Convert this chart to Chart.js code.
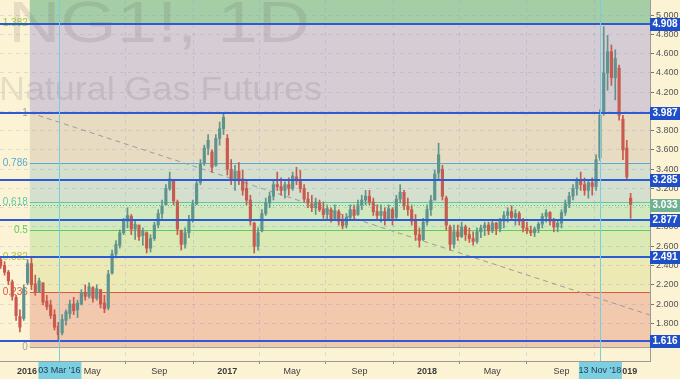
<!DOCTYPE html>
<html>
<head>
<meta charset="utf-8">
<script src="https://cdn.jsdelivr.net/npm/chart.js@4.4.1/dist/chart.umd.min.js"></script>
<style>
  html, body { margin: 0; padding: 0; background: #fcf3d4; }
</style>
</head>
<body>
<canvas id="ng" width="680" height="379"></canvas>
<script>
// NG1! weekly candles, first week ~ 2015-11-17
// x values are days counted from 2016-01-01
const firstWeekDay = -45;
const opens = [
  2.46, 2.40, 2.33, 2.23, 2.07, 1.87, 1.85, 2.22, 2.42, 2.21, 2.13, 2.22, 2.03, 1.99, 1.89, 1.77,
  1.70, 1.83, 1.90, 2.00, 1.94, 2.00, 2.12, 2.08, 2.17, 2.06, 2.15, 2.01, 1.96, 2.32, 2.52, 2.61,
  2.74, 2.86, 2.91, 2.78, 2.82, 2.71, 2.74, 2.58, 2.68, 2.82, 2.94, 3.03, 3.20, 3.28, 3.06, 2.76,
  2.62, 2.74, 2.88, 3.04, 3.26, 3.46, 3.62, 3.58, 3.44, 3.72, 3.82, 3.72, 3.40, 3.30, 3.38, 3.30,
  3.20, 3.08, 2.84, 2.60, 2.76, 2.94, 3.05, 3.12, 3.24, 3.22, 3.18, 3.24, 3.20, 3.32, 3.28, 3.20,
  3.09, 3.04, 3.00, 3.05, 2.98, 2.93, 2.98, 2.89, 2.96, 2.86, 2.82, 2.90, 2.98, 2.93, 3.03, 3.08,
  3.12, 3.06, 2.96, 2.92, 2.96, 2.88, 2.98, 2.90, 3.09, 3.16, 3.02, 2.98, 2.87, 2.72, 2.67, 2.85,
  2.98, 3.08, 3.36, 3.40, 3.10, 2.80, 2.62, 2.75, 2.70, 2.80, 2.72, 2.68, 2.65, 2.75, 2.79, 2.82,
  2.76, 2.84, 2.78, 2.86, 2.92, 2.96, 2.90, 2.94, 2.86, 2.79, 2.76, 2.74, 2.78, 2.83, 2.91, 2.95,
  2.86, 2.80, 2.84, 2.95, 3.04, 3.12, 3.20, 3.28, 3.24, 3.18, 3.26, 3.22, 3.52, 3.98, 4.40, 4.62,
  4.35, 4.45, 3.92, 3.62, 3.10
];
const highs = [
  2.48, 2.44, 2.35, 2.25, 2.09, 1.94, 2.20, 2.46, 2.49, 2.30, 2.27, 2.22, 2.09, 2.04, 1.94, 1.81,
  1.89, 1.94, 2.04, 2.07, 2.04, 2.15, 2.20, 2.22, 2.18, 2.20, 2.15, 2.09, 2.35, 2.56, 2.66, 2.77,
  2.89, 3.00, 2.93, 2.87, 2.82, 2.79, 2.75, 2.72, 2.85, 2.98, 3.08, 3.24, 3.37, 3.29, 3.08, 2.77,
  2.79, 2.92, 3.08, 3.29, 3.50, 3.65, 3.76, 3.60, 3.76, 3.89, 3.99, 3.76, 3.50, 3.44, 3.47, 3.39,
  3.29, 3.13, 2.85, 2.79, 2.98, 3.10, 3.16, 3.29, 3.37, 3.31, 3.27, 3.31, 3.37, 3.42, 3.39, 3.24,
  3.16, 3.13, 3.10, 3.08, 3.06, 3.03, 3.00, 3.03, 2.98, 2.93, 2.94, 3.03, 3.03, 3.08, 3.13, 3.18,
  3.18, 3.10, 3.03, 3.03, 3.00, 3.03, 3.00, 3.13, 3.24, 3.18, 3.10, 3.03, 2.93, 2.79, 2.89, 3.03,
  3.13, 3.39, 3.67, 3.44, 3.12, 2.82, 2.82, 2.82, 2.85, 2.82, 2.79, 2.75, 2.79, 2.82, 2.85, 2.85,
  2.87, 2.85, 2.89, 2.96, 3.00, 3.02, 2.98, 2.96, 2.89, 2.85, 2.81, 2.80, 2.85, 2.94, 2.98, 2.96,
  2.89, 2.87, 2.98, 3.08, 3.16, 3.24, 3.31, 3.37, 3.31, 3.29, 3.31, 3.55, 4.02, 4.88, 4.79, 4.69,
  4.64, 4.48, 3.96, 3.70, 3.15
];
const lows = [
  2.37, 2.30, 2.20, 2.04, 1.83, 1.71, 1.83, 2.20, 2.15, 2.09, 2.12, 1.99, 1.94, 1.85, 1.73, 1.61,
  1.68, 1.78, 1.85, 1.89, 1.86, 1.99, 2.04, 2.06, 2.02, 2.04, 1.96, 1.91, 1.94, 2.31, 2.48, 2.58,
  2.72, 2.79, 2.72, 2.67, 2.66, 2.61, 2.53, 2.54, 2.66, 2.79, 2.89, 3.03, 3.18, 3.03, 2.72, 2.56,
  2.58, 2.69, 2.85, 3.03, 3.24, 3.44, 3.55, 3.37, 3.43, 3.65, 3.76, 3.34, 3.24, 3.18, 3.24, 3.13,
  3.03, 2.82, 2.53, 2.56, 2.75, 2.92, 3.00, 3.08, 3.18, 3.13, 3.10, 3.13, 3.18, 3.24, 3.16, 3.06,
  3.00, 2.96, 2.93, 2.96, 2.89, 2.87, 2.85, 2.87, 2.82, 2.78, 2.79, 2.87, 2.87, 2.92, 2.98, 3.03,
  3.03, 2.92, 2.87, 2.85, 2.82, 2.87, 2.82, 2.88, 3.05, 2.98, 2.92, 2.82, 2.66, 2.59, 2.66, 2.82,
  2.92, 3.08, 3.29, 3.08, 2.77, 2.56, 2.58, 2.66, 2.69, 2.66, 2.64, 2.61, 2.63, 2.69, 2.71, 2.72,
  2.74, 2.72, 2.75, 2.79, 2.85, 2.87, 2.82, 2.82, 2.75, 2.73, 2.71, 2.70, 2.74, 2.79, 2.85, 2.82,
  2.75, 2.75, 2.79, 2.92, 3.00, 3.08, 3.13, 3.18, 3.13, 3.10, 3.13, 3.18, 3.49, 3.96, 4.22, 4.27,
  4.12, 3.91, 3.50, 3.29, 2.89
];
const closes = [
  2.40, 2.33, 2.24, 2.08, 1.88, 1.76, 2.16, 2.42, 2.20, 2.12, 2.24, 2.02, 1.97, 1.88, 1.76, 1.68,
  1.84, 1.92, 2.00, 1.93, 2.01, 2.12, 2.08, 2.18, 2.06, 2.16, 2.00, 1.95, 2.31, 2.52, 2.62, 2.74,
  2.86, 2.92, 2.78, 2.83, 2.70, 2.76, 2.58, 2.68, 2.82, 2.94, 3.02, 3.20, 3.30, 3.07, 2.78, 2.62,
  2.74, 2.88, 3.04, 3.25, 3.45, 3.62, 3.70, 3.42, 3.72, 3.82, 3.94, 3.40, 3.30, 3.38, 3.30, 3.18,
  3.08, 2.86, 2.60, 2.74, 2.94, 3.05, 3.12, 3.24, 3.22, 3.18, 3.24, 3.20, 3.33, 3.28, 3.20, 3.09,
  3.05, 3.00, 3.06, 2.98, 2.93, 2.99, 2.88, 2.97, 2.86, 2.81, 2.90, 2.98, 2.92, 3.03, 3.08, 3.12,
  3.06, 2.96, 2.92, 2.96, 2.87, 2.99, 2.89, 3.09, 3.16, 3.02, 2.98, 2.86, 2.72, 2.66, 2.85, 2.98,
  3.08, 3.35, 3.55, 3.12, 2.82, 2.62, 2.75, 2.70, 2.80, 2.72, 2.68, 2.65, 2.75, 2.79, 2.82, 2.76,
  2.84, 2.78, 2.86, 2.92, 2.96, 2.90, 2.94, 2.86, 2.79, 2.76, 2.74, 2.78, 2.83, 2.91, 2.95, 2.86,
  2.80, 2.84, 2.95, 3.04, 3.12, 3.20, 3.28, 3.24, 3.18, 3.26, 3.22, 3.50, 3.96, 4.40, 4.62, 4.35,
  4.55, 3.96, 3.60, 3.32, 3.033
];

// time axis
const xTickDays = [3, 122, 244, 368, 486, 609, 732, 851, 977, 1097];
const xTickLabels = ['2016', 'May', 'Sep', '2017', 'May', 'Sep', '2018', 'May', 'Sep', '2019'];
// price axis
const yTicks = [1.8, 2.0, 2.2, 2.4, 2.6, 2.8, 3.0, 3.2, 3.4, 3.6, 3.8, 4.0, 4.2, 4.4, 4.6, 4.8, 5.0];

// drawn levels
const levels = [4.908, 3.987, 3.285, 2.877, 2.491, 1.616];
const lastPrice = 3.033;

// fibonacci retracement
const fibLow = 1.554;
const fibHigh = 3.987;
const fibStartDay = 8;
const fibRatios = [0, 0.236, 0.382, 0.5, 0.618, 0.786, 1, 1.382, 1.618];
const fibLabels = ['0', '0.236', '0.382', '0.5', '0.618', '0.786', '1', '1.382'];

// vertical markers
const markerDays = [62, 1047];
const markerLabels = ["03 Mar '16", "13 Nov '18"];

// dashed trend line
const trendLine = [{ x: 8, y: 3.987 }, { x: 1138, y: 1.886 }];

const zoneColors = ['#f2c9ad', '#ece9b4', '#dbe9b4', '#d2e9c0', '#d4dfcd', '#e7dcc1', '#d6ccd3', '#a6cea6'];
const fibLineColors = ['#a0a0a0', '#e0583c', '#a9c843', '#5ccf4c', '#5cc8a6', '#5aa8d4', '#a0a0a0', '#9acd3a'];
const FONT = "'Liberation Sans', Arial, sans-serif";

const fibPrice = r => fibLow + r * (fibHigh - fibLow);
const days = opens.map((_, i) => firstWeekDay + i * 7);
const candleColor = ctx => closes[ctx.dataIndex] >= opens[ctx.dataIndex] ? '#5f948e' : '#c85a50';

const decor = {
  id: 'decor',
  beforeDraw(chart) {
    const { ctx, chartArea: a, scales: { x, y } } = chart;
    ctx.save();
    ctx.fillStyle = '#fcf3d4';
    ctx.fillRect(0, 0, chart.width, chart.height);
    ctx.beginPath();
    ctx.rect(a.left, a.top, a.right - a.left, a.bottom - a.top);
    ctx.clip();
    const fx = x.getPixelForValue(fibStartDay);
    for (let i = 0; i < fibRatios.length - 1; i++) {
      const y1 = y.getPixelForValue(fibPrice(fibRatios[i]));
      const y2 = y.getPixelForValue(fibPrice(fibRatios[i + 1]));
      ctx.fillStyle = zoneColors[i];
      ctx.fillRect(fx, y2, a.right - fx, y1 - y2);
    }
    // watermark
    ctx.fillStyle = 'rgba(70, 55, 70, 0.12)';
    ctx.textBaseline = 'alphabetic';
    ctx.textAlign = 'left';
    const stretch = (txt, size, left, base, width) => {
      ctx.font = size + 'px ' + FONT;
      const w = ctx.measureText(txt).width;
      ctx.save();
      ctx.translate(left, base);
      ctx.scale(width / w, 1);
      ctx.fillText(txt, 0, 0);
      ctx.restore();
    };
    stretch('NG1!, 1D', 58, 8, 42, 302);
    stretch('Natural Gas Futures', 34, -1, 100, 323);
    ctx.restore();
  },
  beforeDatasetsDraw(chart) {
    const { ctx, chartArea: a, scales: { x, y } } = chart;
    const fx = x.getPixelForValue(fibStartDay);
    ctx.save();
    ctx.font = '10px ' + FONT;
    ctx.textAlign = 'right';
    ctx.textBaseline = 'middle';
    for (let i = 0; i < fibLabels.length; i++) {
      const py = Math.round(y.getPixelForValue(fibPrice(fibRatios[i]))) + 0.5;
      ctx.strokeStyle = fibLineColors[i];
      ctx.lineWidth = 1;
      ctx.beginPath();
      ctx.moveTo(fx, py);
      ctx.lineTo(a.right, py);
      ctx.stroke();
      ctx.fillStyle = fibLineColors[i];
      ctx.fillText(fibLabels[i], fx - 2, py);
    }
    ctx.restore();
  },
  afterDatasetsDraw(chart) {
    const { ctx, chartArea: a, scales: { x, y } } = chart;
    ctx.save();
    // last price dotted line
    const ly = Math.round(y.getPixelForValue(lastPrice)) + 0.5;
    ctx.strokeStyle = '#62b792';
    ctx.setLineDash([1, 2]);
    ctx.beginPath();
    ctx.moveTo(a.left, ly);
    ctx.lineTo(a.right, ly);
    ctx.stroke();
    ctx.setLineDash([]);
    // horizontal levels
    ctx.strokeStyle = '#2c5bd3';
    ctx.lineWidth = 2;
    levels.forEach(v => {
      const py = Math.round(y.getPixelForValue(v));
      ctx.beginPath();
      ctx.moveTo(a.left, py);
      ctx.lineTo(a.right, py);
      ctx.stroke();
    });
    // vertical markers
    ctx.strokeStyle = '#79cde0';
    ctx.lineWidth = 1;
    markerDays.forEach(d => {
      const px = Math.round(x.getPixelForValue(d)) + 0.5;
      ctx.beginPath();
      ctx.moveTo(px, a.top);
      ctx.lineTo(px, a.bottom);
      ctx.stroke();
    });
    ctx.restore();
  },
  afterDraw(chart) {
    const { ctx, chartArea: a, scales: { x, y } } = chart;
    ctx.save();
    ctx.textAlign = 'center';
    ctx.textBaseline = 'middle';
    ctx.font = 'bold 10px ' + FONT;
    const box = (v, bg) => {
      const py = Math.round(y.getPixelForValue(v));
      ctx.fillStyle = bg;
      ctx.fillRect(a.right, py - 6, chart.width - a.right, 13);
      ctx.fillStyle = '#ffffff';
      ctx.fillText(v.toFixed(3), a.right + (chart.width - a.right) / 2, py + 0.5);
    };
    levels.forEach(v => box(v, '#1f4fc8'));
    box(lastPrice, '#71b193');
    ctx.font = '9px ' + FONT;
    markerDays.forEach((d, i) => {
      const px = x.getPixelForValue(d);
      ctx.fillStyle = '#7ccfe1';
      ctx.fillRect(px - 21, a.bottom + 1, 43, 17);
      ctx.fillStyle = '#1d3b4c';
      ctx.fillText(markerLabels[i], px, a.bottom + 10);
    });
    ctx.restore();
  }
};

new Chart(document.getElementById('ng'), {
  type: 'bar',
  data: {
    datasets: [
      {
        type: 'line',
        data: trendLine,
        borderColor: '#9b9b9b',
        borderWidth: 1,
        borderDash: [5, 4],
        pointRadius: 0,
        order: 3
      },
      {
        data: days.map((d, i) => ({ x: d, y: [lows[i], highs[i]] })),
        backgroundColor: candleColor,
        barThickness: 1,
        grouped: false,
        order: 2
      },
      {
        data: days.map((d, i) => ({ x: d, y: [opens[i], closes[i]] })),
        backgroundColor: candleColor,
        barThickness: 2.5,
        grouped: false,
        order: 1
      }
    ]
  },
  options: {
    responsive: false,
    animation: false,
    layout: { padding: 0 },
    plugins: { legend: { display: false }, tooltip: { enabled: false } },
    scales: {
      x: {
        type: 'linear',
        min: -46.3,
        max: 1138.3,
        offset: false,
        afterBuildTicks: s => { s.ticks = xTickDays.map(v => ({ value: v })); },
        afterFit: s => { s.height = 18; s.paddingLeft = 0; s.paddingRight = 0; },
        ticks: {
          autoSkip: false,
          maxRotation: 0,
          padding: 2,
          color: '#3c3c3c',
          callback: (v, i) => xTickLabels[i],
          font: c => ({ family: FONT, size: 9, weight: /^\d/.test(xTickLabels[c.index] || '') ? 'bold' : 'normal' })
        },
        grid: { color: 'rgba(140, 140, 215, 0.25)', tickColor: '#8c8c8c', tickLength: 3 },
        border: { color: '#9a9a9a', dash: [4, 4] }
      },
      y: {
        position: 'right',
        min: 1.4085,
        max: 5.157,
        afterBuildTicks: s => { s.ticks = yTicks.map(v => ({ value: v })); },
        afterFit: s => { s.width = 30; s.paddingTop = 0; s.paddingBottom = 0; },
        ticks: {
          padding: 2,
          color: '#555555',
          font: { family: FONT, size: 9 },
          callback: v => Number(v).toFixed(3)
        },
        grid: { color: 'rgba(140, 140, 215, 0.25)', tickColor: '#777777', tickLength: 4 },
        border: { color: '#9a9a9a', dash: [4, 4] }
      }
    }
  },
  plugins: [decor]
});
</script>
</body>
</html>
